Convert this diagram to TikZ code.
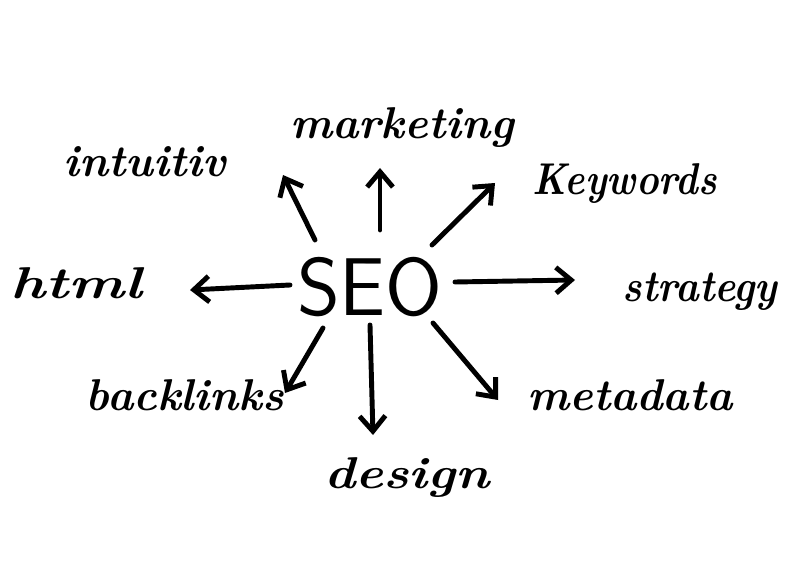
\documentclass[tikz,border=0pt]{standalone}
\usepackage{fontspec}
\usetikzlibrary{arrows.meta}
\newcommand{\wider}[2]{\scalebox{#1}[1]{#2}}
\tikzset{
  word/.style={font=\fontsize{38}{38}\selectfont\bfseries\itshape, inner sep=0pt},
  pointer/.style={line width=4.2pt, line cap=round, -{Straight Barb[length=13pt, width=22pt, line width=4.2pt]}}
}
\begin{document}
\begin{tikzpicture}[x=0.03cm, y=-0.03cm]
  \useasboundingbox (0,0) rectangle (799,564); % 枠
  \node[font=\sffamily\fontsize{70}{70}\selectfont, inner sep=0pt] (seo) at (370,287) {SEO}; % 中心
  % 周りの言葉
  \node[word] (marketing) at (402,128) {marketing};
  \node[word] (intuitiv) at (145,162) {intuitiv};
  \node[word] (keywords) at (625,184) {\wider{0.86}{Keywords}};
  \node[word] (html) at (76,283) {\wider{1.33}{html}};
  \node[word] (strategy) at (700,292) {\wider{0.9}{strategy}};
  \node[word] (backlinks) at (185,395) {backlinks};
  \node[word] (metadata) at (630,395) {metadata};
  \node[word] (design) at (407,478) {\wider{1.18}{design}};
  % 矢印の元と先
  \coordinate (s1) at (315,240); \coordinate (t1) at (283,175);
  \coordinate (s2) at (380,230); \coordinate (t2) at (380,168);
  \coordinate (s3) at (432,245); \coordinate (t3) at (495,183);
  \coordinate (s4) at (290,285); \coordinate (t4) at (190,290);
  \coordinate (s5) at (455,282); \coordinate (t5) at (575,280);
  \coordinate (s6) at (323,328); \coordinate (t6) at (285,393);
  \coordinate (s7) at (370,325); \coordinate (t7) at (373,435);
  \coordinate (s8) at (433,323); \coordinate (t8) at (498,400);
  % 矢印
  \foreach \i in {1,...,8}
    \draw[pointer] (s\i) -- (t\i);
\end{tikzpicture}
\end{document}
